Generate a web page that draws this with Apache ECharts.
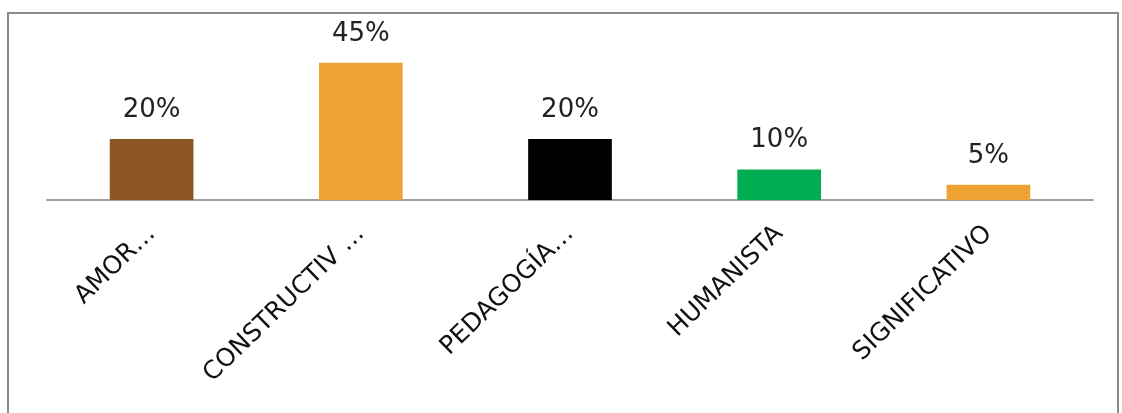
<!DOCTYPE html>
<html>
<head>
<meta charset="utf-8">
<script src="https://cdn.jsdelivr.net/npm/echarts@6/dist/echarts.min.js"></script>
<style>
  html, body { margin: 0; padding: 0; background: #fff; }
  #chart { width: 1122px; height: 413px; }
</style>
</head>
<body>
<div id="chart"></div>
<script>
const categories = ["AMOR…", "CONSTRUCTIV …", "PEDAGOGÍA…", "HUMANISTA", "SIGNIFICATIVO"];
const values = [20, 45, 20, 10, 5];
const barColors = ["#8c5622", "#eea232", "#000000", "#00ad50", "#eea232"];

const chart = echarts.init(document.getElementById("chart"));
chart.setOption({
  animation: false,
  graphic: [
    {
      // gray frame round the chart area
      type: "rect",
      shape: { x: 8, y: 13, width: 1110, height: 440 },
      style: { fill: "none", stroke: "#8a8a8a", lineWidth: 2 },
      silent: true,
    },
  ],
  grid: {
    left: 47,
    right: 29,
    top: 17,
    bottom: 213,
  },
  xAxis: {
    type: "category",
    data: categories,
    axisLine: { show: true, lineStyle: { color: "#a0a0a0", width: 2 } },
    axisTick: { show: false },
    axisLabel: {
      interval: 0,
      rotate: 44,
      margin: 30,
      color: "#111",
      fontFamily: "DejaVu Sans",
      fontSize: 25,
    },
  },
  yAxis: {
    type: "value",
    min: 0,
    max: 60,
    show: false,
    splitLine: { show: false },
  },
  series: [
    {
      type: "bar",
      barWidth: "40%",
      data: values.map((v, i) => ({ value: v, itemStyle: { color: barColors[i] } })),
      label: {
        show: true,
        position: "top",
        distance: 16,
        formatter: "{c}%",
        color: "#222",
        fontFamily: "DejaVu Sans",
        fontSize: 26,
      },
    },
  ],
});
</script>
</body>
</html>
